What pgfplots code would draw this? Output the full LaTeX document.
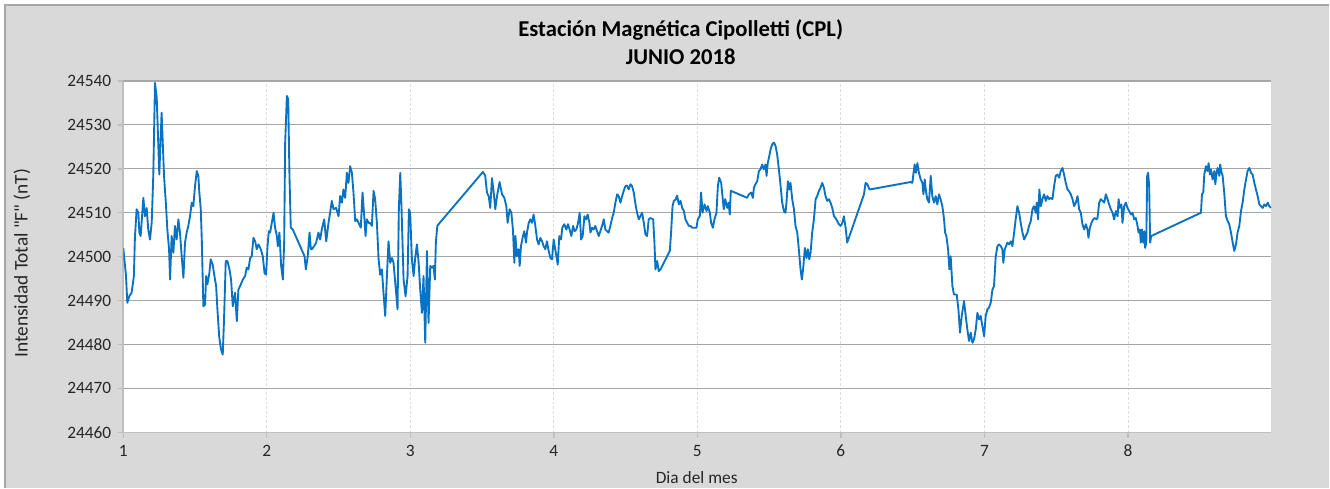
\documentclass[border=0pt]{standalone}
\usepackage{pgfplots}
\pgfplotsset{compat=1.18}
\usepackage{pgfplotstable}
\usepackage{fontspec}
\setmainfont{Carlito}[Ligatures=TeXOff]
\definecolor{bggray}{HTML}{D9D9D9}
\definecolor{gridgray}{HTML}{A6A6A6}
\definecolor{vgrid}{HTML}{DDDDDD}
\definecolor{axgray}{HTML}{BFBFBF}
\definecolor{lineblue}{HTML}{0A72C2}
\definecolor{txt}{HTML}{262626}

\pgfplotstableread{
x y
1.000 24502.0
1.019 24495.6
1.028 24489.5
1.042 24491.0
1.058 24491.8
1.074 24495.6
1.081 24504.3
1.093 24510.8
1.105 24510.0
1.112 24505.5
1.121 24504.7
1.140 24513.4
1.151 24509.2
1.163 24511.1
1.174 24506.2
1.186 24503.9
1.198 24507.7
1.209 24518.4
1.221 24539.6
1.233 24536.2
1.251 24518.7
1.267 24532.8
1.284 24518.4
1.298 24511.5
1.307 24506.2
1.319 24501.7
1.326 24494.8
1.337 24504.7
1.349 24500.9
1.360 24507.0
1.372 24503.9
1.384 24508.5
1.395 24505.5
1.407 24500.1
1.419 24495.2
1.430 24503.2
1.442 24505.5
1.453 24507.0
1.465 24509.2
1.477 24512.3
1.488 24511.5
1.500 24516.1
1.512 24519.5
1.523 24518.4
1.530 24514.6
1.540 24510.8
1.547 24503.9
1.558 24488.7
1.570 24489.1
1.577 24495.6
1.586 24493.7
1.600 24496.3
1.609 24499.4
1.623 24498.2
1.635 24495.6
1.647 24493.3
1.656 24488.0
1.668 24481.9
1.681 24478.9
1.693 24477.7
1.702 24485.7
1.714 24499.0
1.726 24499.0
1.740 24497.1
1.751 24494.8
1.763 24488.7
1.779 24491.8
1.791 24485.3
1.802 24492.5
1.814 24493.3
1.833 24494.8
1.849 24495.6
1.860 24497.5
1.872 24497.1
1.884 24499.7
1.895 24500.1
1.907 24504.3
1.919 24503.5
1.930 24501.7
1.942 24502.8
1.958 24501.7
1.972 24500.1
1.984 24496.3
1.995 24495.9
2.005 24502.4
2.014 24505.8
2.023 24505.5
2.035 24507.7
2.047 24510.0
2.058 24506.6
2.070 24504.7
2.077 24502.4
2.088 24505.5
2.100 24497.9
2.112 24494.8
2.121 24503.2
2.128 24526.0
2.140 24536.6
2.149 24535.9
2.158 24518.4
2.167 24506.6
2.181 24506.2
2.263 24500.1
2.272 24497.1
2.284 24499.7
2.298 24505.5
2.307 24501.7
2.314 24501.7
2.330 24502.4
2.344 24503.2
2.360 24505.5
2.372 24503.9
2.383 24506.2
2.400 24508.5
2.414 24503.5
2.430 24507.7
2.441 24510.0
2.453 24512.7
2.465 24510.8
2.483 24511.1
2.500 24509.2
2.511 24513.8
2.523 24512.3
2.534 24515.3
2.546 24513.4
2.558 24519.1
2.569 24516.8
2.581 24520.6
2.593 24519.1
2.604 24514.6
2.616 24508.1
2.627 24508.5
2.644 24507.4
2.655 24506.6
2.667 24514.6
2.679 24509.2
2.688 24504.7
2.697 24508.5
2.709 24507.7
2.720 24507.7
2.732 24507.0
2.744 24515.0
2.755 24513.1
2.767 24507.7
2.779 24499.4
2.790 24495.9
2.802 24497.1
2.813 24491.8
2.825 24486.5
2.837 24495.6
2.848 24503.5
2.860 24498.6
2.872 24499.7
2.883 24498.6
2.895 24494.1
2.911 24488.0
2.920 24510.8
2.930 24519.1
2.939 24510.8
2.953 24494.8
2.967 24491.0
2.981 24495.6
2.990 24510.8
2.999 24510.0
3.011 24499.4
3.023 24495.6
3.034 24499.7
3.046 24502.8
3.058 24498.6
3.069 24492.5
3.081 24487.2
3.092 24495.6
3.104 24480.4
3.116 24501.3
3.127 24484.9
3.139 24497.9
3.150 24497.5
3.162 24497.9
3.171 24494.8
3.178 24503.2
3.188 24507.0
3.197 24507.4
3.506 24519.3
3.522 24518.4
3.534 24514.6
3.546 24513.8
3.557 24511.1
3.569 24517.9
3.581 24514.6
3.592 24510.8
3.604 24513.8
3.622 24517.0
3.639 24514.2
3.655 24513.4
3.669 24511.5
3.678 24507.7
3.692 24510.8
3.704 24510.0
3.715 24506.2
3.725 24498.6
3.732 24504.7
3.743 24500.1
3.755 24501.7
3.762 24497.9
3.771 24502.4
3.785 24504.7
3.794 24505.8
3.806 24503.2
3.813 24505.5
3.825 24507.7
3.836 24508.5
3.848 24507.7
3.859 24509.6
3.871 24507.0
3.883 24503.9
3.894 24502.8
3.906 24504.3
3.918 24503.5
3.929 24502.4
3.941 24501.7
3.952 24503.5
3.964 24501.3
3.976 24499.7
3.987 24499.4
3.999 24503.9
4.006 24502.4
4.018 24500.1
4.027 24498.2
4.038 24504.7
4.050 24503.9
4.059 24506.6
4.073 24507.4
4.087 24506.2
4.099 24507.4
4.110 24506.2
4.122 24504.7
4.134 24507.0
4.145 24505.8
4.157 24506.2
4.169 24507.7
4.180 24510.0
4.190 24503.9
4.201 24504.7
4.213 24509.2
4.225 24508.5
4.236 24509.6
4.248 24507.7
4.255 24505.5
4.266 24506.6
4.278 24506.2
4.289 24507.0
4.301 24505.8
4.313 24504.7
4.324 24505.8
4.336 24507.0
4.348 24508.5
4.359 24506.2
4.371 24505.8
4.382 24505.5
4.394 24507.0
4.406 24508.8
4.417 24510.0
4.429 24512.3
4.441 24514.2
4.452 24513.8
4.464 24512.3
4.476 24513.8
4.487 24515.0
4.499 24516.1
4.510 24516.2
4.522 24515.3
4.534 24516.5
4.545 24516.1
4.557 24514.6
4.569 24511.9
4.580 24510.0
4.592 24508.5
4.603 24509.2
4.615 24510.0
4.627 24507.7
4.638 24505.1
4.650 24504.7
4.661 24508.5
4.673 24508.8
4.692 24508.5
4.701 24503.2
4.708 24497.1
4.720 24499.0
4.731 24496.7
4.743 24497.1
4.808 24501.3
4.817 24505.5
4.827 24511.5
4.836 24512.7
4.848 24513.0
4.859 24513.9
4.871 24511.9
4.883 24512.7
4.894 24511.1
4.906 24510.4
4.917 24508.5
4.929 24507.7
4.941 24507.0
4.952 24507.0
4.964 24506.6
4.975 24506.6
4.994 24506.6
5.003 24508.5
5.017 24509.2
5.026 24514.6
5.036 24510.0
5.050 24511.9
5.064 24510.4
5.073 24511.5
5.087 24510.0
5.096 24507.7
5.108 24506.6
5.119 24508.5
5.133 24510.0
5.143 24516.1
5.152 24518.0
5.166 24516.8
5.175 24513.8
5.184 24510.8
5.194 24513.1
5.208 24511.1
5.217 24512.3
5.226 24509.6
5.233 24515.0
5.347 24513.4
5.359 24514.2
5.375 24514.6
5.387 24513.4
5.394 24515.7
5.405 24516.5
5.417 24517.2
5.429 24519.5
5.440 24519.9
5.452 24521.0
5.463 24519.9
5.475 24521.0
5.482 24518.4
5.491 24521.4
5.501 24522.9
5.510 24524.4
5.522 24525.6
5.533 24526.0
5.545 24525.2
5.556 24523.3
5.568 24519.9
5.580 24516.1
5.591 24512.3
5.603 24510.4
5.614 24510.0
5.621 24512.3
5.631 24517.2
5.640 24515.3
5.649 24516.8
5.661 24513.1
5.673 24510.8
5.684 24507.0
5.696 24505.5
5.707 24501.7
5.719 24497.1
5.728 24494.8
5.738 24497.5
5.749 24502.0
5.761 24499.7
5.770 24501.7
5.780 24499.4
5.789 24500.9
5.800 24505.5
5.812 24508.5
5.824 24513.1
5.835 24513.8
5.847 24515.0
5.858 24515.7
5.870 24516.8
5.882 24515.7
5.893 24513.8
5.905 24512.7
5.917 24513.1
5.928 24512.3
5.940 24511.1
5.952 24509.2
5.963 24508.8
5.975 24508.1
5.986 24507.4
5.998 24507.0
6.010 24507.7
6.021 24509.2
6.033 24506.6
6.044 24503.2
6.161 24514.2
6.172 24516.8
6.184 24516.5
6.200 24515.3
6.486 24517.0
6.498 24516.8
6.505 24518.7
6.514 24521.0
6.523 24519.1
6.533 24521.3
6.544 24519.1
6.556 24517.6
6.568 24516.8
6.575 24514.2
6.584 24517.6
6.593 24514.9
6.602 24513.1
6.614 24512.3
6.626 24518.4
6.637 24513.8
6.649 24512.3
6.661 24513.8
6.672 24511.9
6.684 24514.2
6.695 24513.1
6.707 24511.5
6.719 24508.5
6.726 24505.5
6.735 24504.7
6.747 24501.7
6.756 24497.1
6.765 24500.1
6.777 24493.3
6.788 24491.4
6.807 24491.4
6.819 24488.0
6.830 24482.7
6.842 24486.5
6.858 24489.9
6.870 24486.5
6.881 24483.5
6.893 24480.8
6.905 24482.7
6.916 24480.4
6.928 24481.2
6.940 24483.5
6.951 24487.2
6.963 24485.7
6.974 24486.5
6.986 24484.2
6.998 24481.9
7.009 24486.5
7.021 24488.0
7.032 24488.4
7.044 24489.5
7.056 24492.5
7.067 24493.3
7.079 24500.1
7.091 24502.4
7.102 24502.8
7.114 24502.4
7.125 24501.7
7.132 24498.6
7.142 24501.7
7.151 24502.4
7.160 24503.2
7.172 24502.8
7.184 24503.5
7.195 24502.4
7.207 24505.5
7.218 24508.5
7.230 24511.5
7.242 24510.0
7.253 24507.7
7.265 24505.5
7.277 24503.9
7.288 24504.7
7.300 24505.5
7.311 24507.0
7.323 24508.1
7.335 24510.8
7.346 24511.5
7.358 24510.0
7.365 24512.3
7.374 24508.5
7.383 24515.3
7.393 24511.5
7.404 24513.1
7.416 24514.2
7.428 24512.7
7.439 24513.8
7.451 24513.1
7.463 24513.4
7.474 24513.1
7.486 24516.1
7.497 24518.4
7.509 24518.7
7.521 24518.0
7.532 24519.5
7.544 24520.2
7.555 24518.7
7.567 24516.8
7.579 24515.3
7.590 24514.9
7.602 24514.2
7.614 24513.1
7.625 24511.5
7.637 24512.3
7.649 24513.8
7.660 24510.8
7.672 24510.0
7.683 24507.4
7.695 24506.2
7.707 24507.4
7.718 24506.2
7.725 24504.3
7.735 24506.6
7.746 24507.7
7.758 24508.5
7.769 24508.8
7.781 24508.5
7.788 24508.8
7.800 24512.3
7.811 24513.1
7.823 24512.7
7.835 24512.3
7.846 24514.2
7.858 24513.1
7.869 24511.9
7.881 24510.8
7.893 24510.0
7.904 24508.5
7.916 24510.4
7.928 24509.2
7.935 24513.1
7.944 24511.1
7.955 24511.9
7.962 24507.7
7.974 24511.5
7.986 24512.3
7.997 24511.1
8.009 24510.4
8.021 24509.6
8.032 24510.0
8.044 24508.5
8.055 24508.8
8.067 24507.0
8.074 24505.5
8.083 24506.2
8.090 24503.2
8.097 24506.2
8.107 24503.2
8.114 24505.8
8.120 24502.0
8.128 24503.2
8.134 24518.4
8.141 24519.1
8.148 24516.1
8.155 24503.2
8.162 24504.7
8.509 24510.0
8.516 24514.2
8.525 24514.6
8.532 24518.7
8.544 24520.6
8.555 24519.5
8.562 24521.3
8.571 24518.7
8.579 24519.9
8.590 24517.6
8.602 24519.5
8.609 24516.5
8.618 24519.1
8.625 24520.2
8.637 24518.4
8.643 24521.0
8.653 24519.1
8.660 24518.4
8.671 24514.6
8.683 24509.2
8.695 24508.1
8.706 24507.4
8.718 24505.5
8.730 24503.2
8.741 24501.3
8.753 24502.8
8.764 24505.5
8.776 24507.0
8.788 24510.4
8.799 24512.3
8.811 24515.3
8.823 24517.6
8.834 24519.5
8.846 24520.2
8.858 24519.1
8.869 24518.7
8.881 24516.8
8.892 24515.3
8.904 24513.8
8.916 24511.9
8.927 24511.5
8.939 24511.1
8.950 24511.9
8.962 24511.5
8.974 24512.3
8.985 24511.5
8.997 24511.1
}\datatable

\begin{document}
\begin{tikzpicture}
% page / chart area (1 px = 0.75 pt)
\fill[white] (0pt,0pt) rectangle (997.5pt,366pt);
\fill[bggray] (3.75pt,0pt) rectangle (997.5pt,362.25pt);
\draw[gray!70, line width=0.9pt] (3.75pt,0pt) -- (3.75pt,362.25pt) -- (997.5pt,362.25pt);
\begin{axis}[
  at={(92.5pt,41.6pt)}, anchor=south west,
  scale only axis,
  width=861.5pt, height=263.6pt,
  xmin=1, xmax=9, ymin=24460, ymax=24540,
  xtick={1,2,3,4,5,6,7,8},
  ytick={24460,24470,24480,24490,24500,24510,24520,24530,24540},
  scaled y ticks=false, scaled x ticks=false,
  axis background/.style={fill=white},
  axis x line*=bottom, axis y line*=left,
  axis line style={draw=axgray, line width=1.2pt, -},
  tick align=outside,
  major tick length=4pt,
  tick style={draw=axgray, line width=1pt},
  ymajorgrids, xmajorgrids,
  y grid style={draw=gridgray, line width=0.8pt},
  x grid style={draw=vgrid, line width=0.6pt, dash pattern=on 2pt off 1.5pt},
  /pgf/number format/assume math mode=true,
  /pgf/number format/1000 sep={},
  ticklabel style={font=\fontsize{13}{15}\selectfont, text=txt},
  yticklabel style={xshift=-1.5pt},
  xticklabel style={yshift=-2pt},
  clip=true,
]
\addplot[lineblue, line width=1.4pt, line join=round] table[x=x,y=y]{\datatable};
\end{axis}
\node[font=\fontsize{17}{19}\bfseries\selectfont, text=black] at (510.75pt,343.5pt) {Estación Magnética Cipolletti (CPL)};
\node[font=\fontsize{17}{19}\bfseries\selectfont, text=black] at (510.75pt,323.25pt) {JUNIO 2018};
\node[font=\fontsize{13}{15}\selectfont, text=txt] at (522.75pt,7.5pt) {Dia del mes};
\node[font=\fontsize{14.5}{16}\selectfont, text=txt, rotate=90] at (16.5pt,168.5pt) {Intensidad Total "F" (nT)};
\end{tikzpicture}
\end{document}
